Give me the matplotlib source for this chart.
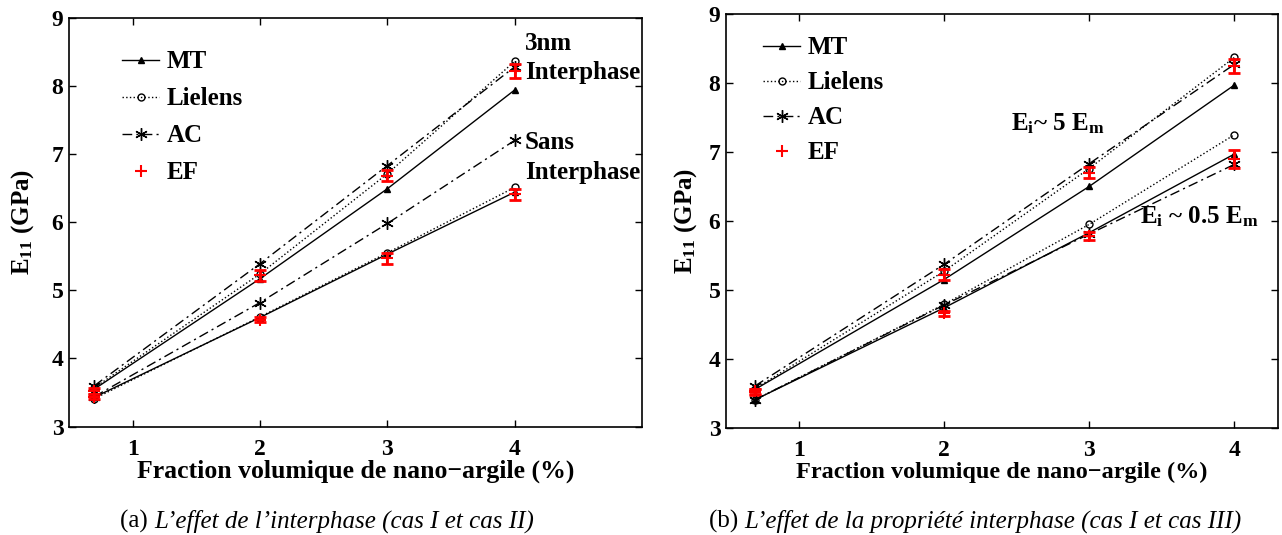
import numpy as np
import matplotlib
matplotlib.use("Agg")
import matplotlib.pyplot as plt

plt.rcParams["font.family"] = ["Liberation Serif", "DejaVu Serif"]
plt.rcParams["font.weight"] = "bold"
plt.rcParams["mathtext.fontset"] = "custom"
plt.rcParams["mathtext.rm"] = "Liberation Serif:bold"
plt.rcParams["mathtext.bf"] = "Liberation Serif:bold"
plt.rcParams["mathtext.it"] = "Liberation Serif:bold"

# ── data ────────────────────────────────────────────────────────────────────
frac = [0.7, 2, 3, 4]

# (a) interphase 3nm vs sans interphase
a_mt_int   = [3.55, 5.17, 6.49, 7.94]
a_li_int   = [3.57, 5.24, 6.71, 8.36]
a_ac_int   = [3.60, 5.39, 6.83, 8.28]
a_ef_int   = [3.52, 5.22, 6.68, 8.22]
a_ef_int_e = [0.04, 0.08, 0.08, 0.10]
a_mt_sans  = [3.43, 4.60, 5.53, 6.44]
a_li_sans  = [3.41, 4.61, 5.55, 6.51]
a_ac_sans  = [3.44, 4.82, 5.98, 7.20]
a_ef_sans  = [3.44, 4.57, 5.47, 6.41]
a_ef_sans_e = [0.04, 0.04, 0.08, 0.08]

# (b) Ei ~ 5 Em vs Ei ~ 0.5 Em
b_mt_hi   = [3.56, 5.15, 6.50, 7.97]
b_li_hi   = [3.57, 5.27, 6.76, 8.37]
b_ac_hi   = [3.61, 5.37, 6.83, 8.27]
b_ef_hi   = [3.52, 5.22, 6.70, 8.24]
b_ef_hi_e = [0.04, 0.08, 0.08, 0.10]
b_mt_lo   = [3.41, 4.74, 5.83, 6.97]
b_li_lo   = [3.41, 4.79, 5.95, 7.25]
b_ac_lo   = [3.41, 4.78, 5.81, 6.82]
b_ef_lo   = [3.53, 4.66, 5.78, 6.90]
b_ef_lo_e = [0.04, 0.03, 0.06, 0.13]

XLABEL = "Fraction volumique de nano\u2212argile (%)"
YLABEL = r"E$_{11}$ (GPa)"
CAP_A = ("(a) ", "L\u2019effet de l\u2019interphase (cas I et cas II)")
CAP_B = ("(b) ", "L\u2019effet de la propri\u00e9t\u00e9 interphase (cas I et cas III)")


def draw_group(ax, mt, li, ac, ef, ef_err, label=True):
    ax.plot(frac, mt, "k-", marker="^", ms=5, lw=1.0, label="MT" if label else None)
    ax.plot(frac, li, "k:", marker="o", ms=5, mfc="none", lw=1.0,
            label="Lielens" if label else None)
    ax.plot(frac, ac, "k", ls=(0, (7, 3, 1.5, 3)), marker=(6, 2, 0), ms=9, lw=1.0,
            label="AC" if label else None)
    ax.errorbar(frac, ef, yerr=ef_err, fmt="none", ecolor="red", elinewidth=2.0,
                capsize=4, capthick=2.0)
    ax.plot(frac, ef, "r+", ms=9, mew=1.5, ls="none", label="EF" if label else None)


def style_axes(ax, xmax, xlab_size, ylab_pad, leg_anchor, leg_space):
    ax.set_xlim(0.5, xmax)
    ax.set_ylim(3, 9)
    ax.set_xticks([1, 2, 3, 4])
    ax.set_yticks(np.arange(3, 10, 1))
    ax.tick_params(direction="in", top=True, right=True, length=5, width=1,
                   labelsize=17, pad=9)
    ax.tick_params(axis="y", pad=4)
    for lbl in ax.get_xticklabels() + ax.get_yticklabels():
        lbl.set_fontweight("bold")
    for sp in ax.spines.values():
        sp.set_linewidth(1.2)
    ax.set_xlabel(XLABEL, fontsize=xlab_size, fontweight="bold", labelpad=0)
    ax.set_ylabel(YLABEL, fontsize=18, fontweight="bold", labelpad=ylab_pad)
    ax.legend(loc="upper left", bbox_to_anchor=leg_anchor, frameon=False,
              fontsize=18, handlelength=1.5, handletextpad=0.3, borderpad=0,
              borderaxespad=0, labelspacing=leg_space, numpoints=1)


def caption(fig, xc, yc, parts, size):
    r = fig.canvas.get_renderer()
    t1 = fig.text(0, yc, parts[0], fontsize=size, fontweight="normal", va="center")
    t2 = fig.text(0, yc, parts[1], fontsize=size, fontweight="normal",
                  style="italic", va="center")
    w1 = t1.get_window_extent(r).width / fig.bbox.width
    w2 = t2.get_window_extent(r).width / fig.bbox.width
    x0 = xc - (w1 + w2) / 2
    t1.set_x(x0)
    t2.set_x(x0 + w1)


fig = plt.figure(figsize=(12.82, 5.35), dpi=100)
ax1 = fig.add_axes([0.0538, 0.2028, 0.447, 0.764])
ax2 = fig.add_axes([0.5663, 0.200, 0.4306, 0.774])

# ── (a) ─────────────────────────────────────────────────────────────────────
draw_group(ax1, a_mt_int, a_li_int, a_ac_int, a_ef_int, a_ef_int_e)
draw_group(ax1, a_mt_sans, a_li_sans, a_ac_sans, a_ef_sans, a_ef_sans_e, label=False)
style_axes(ax1, 5.0, 18.5, 11, (0.0925, 0.92), 0.56)
for txt, yv in [("3nm", 8.62), ("Interphase", 8.20), ("Sans", 7.17), ("Interphase", 6.73)]:
    ax1.text(4.08, yv, txt, fontsize=18, fontweight="bold", va="center")

# ── (b) ─────────────────────────────────────────────────────────────────────
draw_group(ax2, b_mt_hi, b_li_hi, b_ac_hi, b_ef_hi, b_ef_hi_e)
draw_group(ax2, b_mt_lo, b_li_lo, b_ac_lo, b_ef_lo, b_ef_lo_e, label=False)
style_axes(ax2, 4.3, 17.5, 7, (0.067, 0.946), 0.48)
ax2.text(2.46, 7.41, r"E$_\mathrm{i}$~ 5 E$_\mathrm{m}$", fontsize=18,
         fontweight="bold", va="center")
ax2.text(3.35, 6.06, r"E$_\mathrm{i}$ ~ 0.5 E$_\mathrm{m}$", fontsize=18,
         fontweight="bold", va="center")

# ── captions ────────────────────────────────────────────────────────────────
caption(fig, 0.255, 0.026, CAP_A, 18)
caption(fig, 0.761, 0.026, CAP_B, 18)

fig.savefig("out.png", dpi=100)
